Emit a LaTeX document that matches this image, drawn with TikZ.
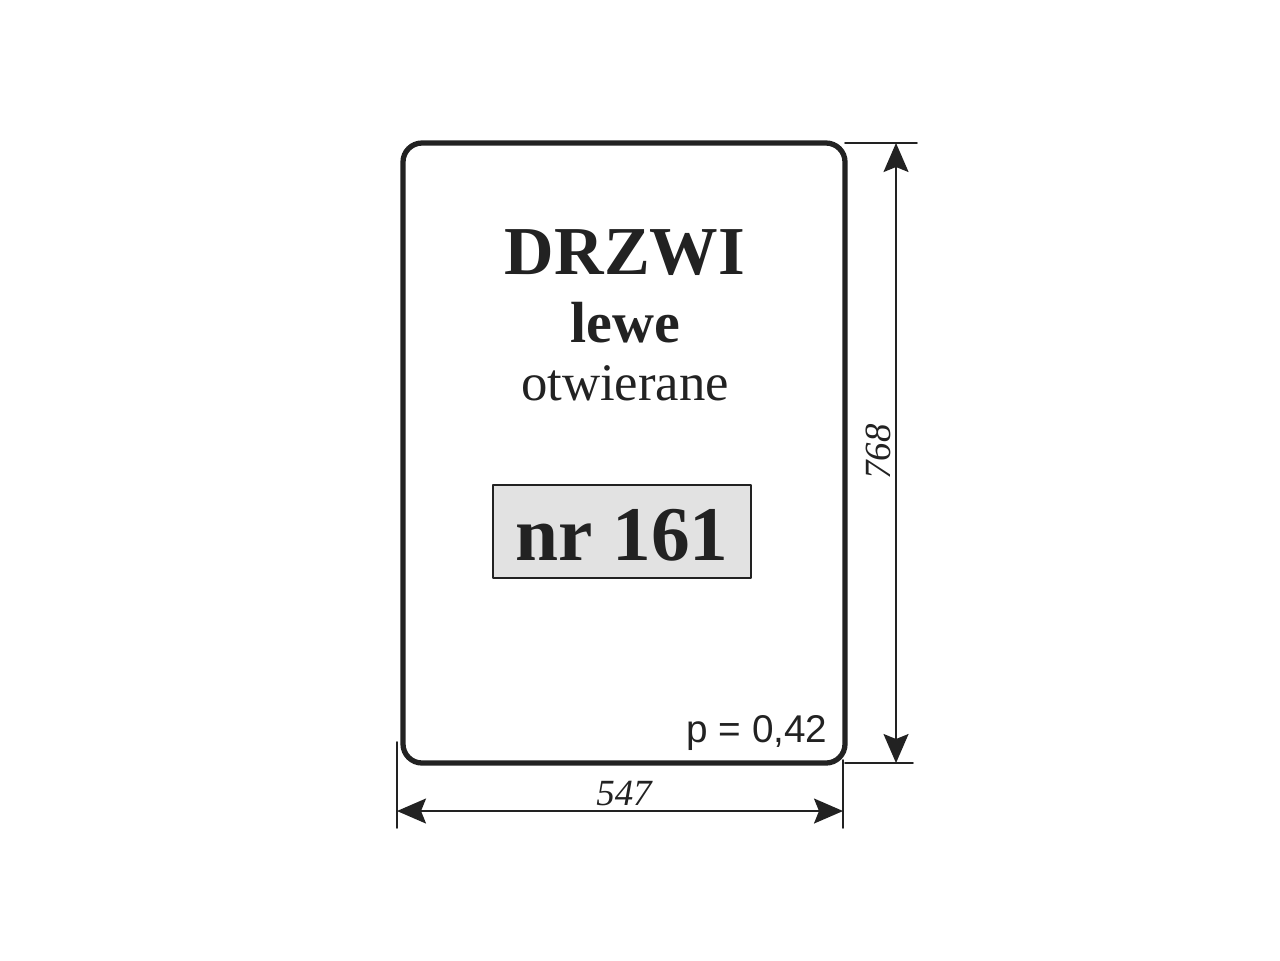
\documentclass[tikz,border=0pt]{standalone}
\usepackage{fontspec}
\setmainfont{Liberation Serif}
\newfontfamily\arialfont{Liberation Sans}
\usetikzlibrary{arrows.meta}
\definecolor{ink}{HTML}{222222}
\definecolor{plate}{HTML}{E2E2E2}

\begin{document}
\begin{tikzpicture}[line cap=round,line join=round,x=0.01cm,y=-0.01cm,
    dimline/.style={line width=0.5pt,draw=ink,
      {Stealth[length=2.9mm,width=2.5mm,inset=0.5mm]}-{Stealth[length=2.9mm,width=2.5mm,inset=0.5mm]}},
    extline/.style={line width=0.5pt,draw=ink},
    dimlabel/.style={font=\itshape\fontsize{10.5}{12}\selectfont,text=ink,inner sep=1pt}]
          \useasboundingbox (0,0) rectangle (1280,960);
          \coordinate (A) at (403,763);
          \coordinate (B) at (845,763);
          \coordinate (C) at (845,143);
          \coordinate (D) at (403,143);

          % glass outline
          \draw[ink,line width=1.5pt,rounded corners=0.19cm] (A) rectangle (C);

          % extension lines
          \coordinate (Ctop) at (917,143);
          \coordinate (Bbot) at (913,763);
          \coordinate (Ldown) at (397,828);
          \coordinate (Lup) at (397,742);
          \coordinate (Rdown) at (843,828);
          \coordinate (Rup) at (843,760);
          \draw[extline] (C) -- (Ctop);
          \draw[extline] (B) -- (Bbot);
          \draw[extline] (Lup) -- (Ldown);
          \draw[extline] (Rup) -- (Rdown);

          % dimensions
          \coordinate (H1) at (896,143);
          \coordinate (H2) at (896,763);
          \coordinate (W1) at (397,811);
          \coordinate (W2) at (843,811);
          \draw[dimline] (H1) -- (H2);
          \draw[dimline] (W1) -- (W2);
          \node[dimlabel,rotate=90] (height) at (878,452) {768};
          \node[dimlabel] (width) at (624,793) {547};

          % texts
          \node[text=ink,font=\bfseries\fontsize{19.5}{23}\selectfont] (title) at (625,253) {DRZWI};
          \node[text=ink,font=\bfseries\fontsize{16.5}{20}\selectfont] (side) at (625,323) {lewe};
          \node[text=ink,font=\fontsize{15}{18}\selectfont] (kind) at (625,383) {otwierane};
          \fill[fill=plate] (493,485) rectangle (751,578);
          \draw[ink,line width=0.8pt] (493,485) rectangle (751,578);
          \node[text=ink,font=\bfseries\fontsize{22}{26}\selectfont] (number) at (622,535) {nr 161};
          \node[text=ink,font=\arialfont\fontsize{11}{13}\selectfont] (thick) at (757,733) {p = 0,42};

        \end{tikzpicture}
\end{document}
